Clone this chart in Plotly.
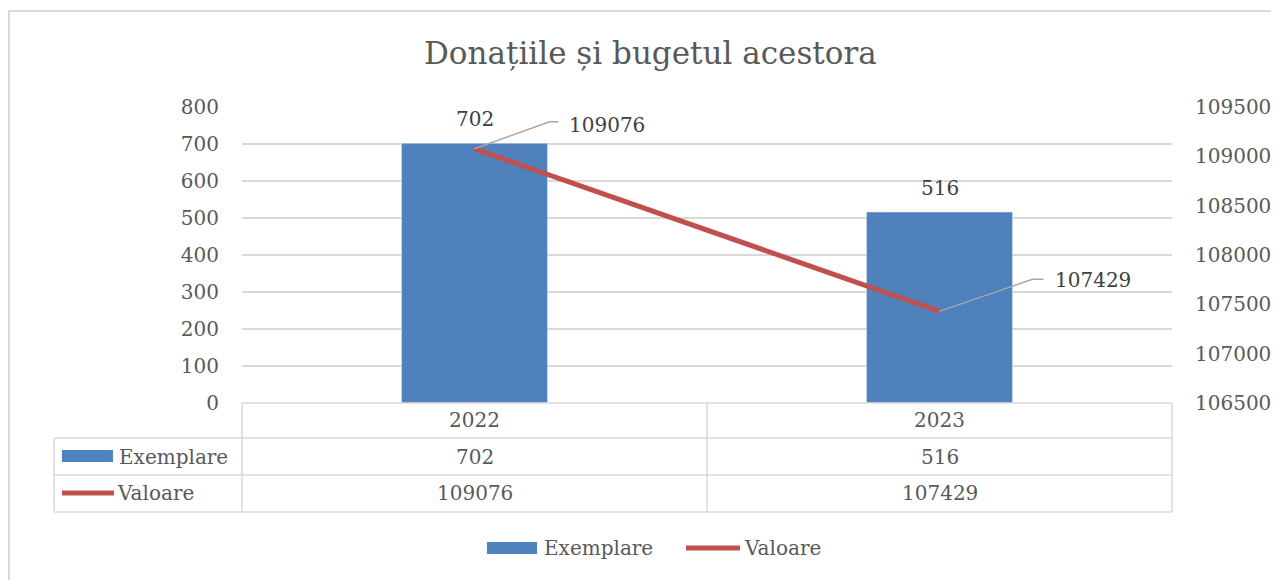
import plotly.graph_objects as go

years = ["2022", "2023"]
exemplare = [702, 516]
valoare = [109076, 107429]
left_ticks = [0, 100, 200, 300, 400, 500, 600, 700, 800]
right_ticks = [106500, 107000, 107500, 108000, 108500, 109000, 109500]
series_names = ["Exemplare", "Valoare"]
title_text = "Donațiile și bugetul acestora"

W, H = 1279, 580
OFF = 8  # page body margin
L, R, T, B = 242 - OFF, 1172 - OFF, 107 - OFF, 403 - OFF  # plot area in figure pixels
FONT = "DejaVu Serif"
TXT = "#595959"
LBL = "#404040"
GRID = "#d9d9d9"
BLUE = "#4f81bd"
RED = "#c0504d"
FS = 20


def px(x):
    return (x - OFF - L) / (R - L)


def py(y):
    return (B - (y - OFF)) / (B - T)


fig = go.Figure()
fig.add_trace(go.Bar(x=years, y=exemplare, name=series_names[0], marker_color=BLUE,
                     yaxis="y", showlegend=False))
fig.add_trace(go.Scatter(x=years, y=valoare, name=series_names[1], mode="lines",
                         line=dict(color=RED, width=5), yaxis="y2", showlegend=False))

shapes = []
annotations = []

# outer chart border
shapes.append(dict(type="rect", xref="paper", yref="paper", x0=px(9), x1=px(1320),
                   y0=py(620), y1=py(11), line=dict(color="#d9d9d9", width=2), layer="below"))

# data table lines
for yy, xa in [(403, 242), (438, 54), (475, 54), (512, 54)]:
    shapes.append(dict(type="line", xref="paper", yref="paper", x0=px(xa), x1=px(1172),
                       y0=py(yy), y1=py(yy), line=dict(color=GRID, width=1.5)))
for xx, ya in [(54, 438), (242, 403), (707, 403), (1172, 403)]:
    shapes.append(dict(type="line", xref="paper", yref="paper", x0=px(xx), x1=px(xx),
                       y0=py(ya), y1=py(512), line=dict(color=GRID, width=1.5)))

# table legend keys
shapes.append(dict(type="rect", xref="paper", yref="paper", x0=px(62), x1=px(113),
                   y0=py(462), y1=py(450), fillcolor=BLUE, line=dict(width=0)))
shapes.append(dict(type="line", xref="paper", yref="paper", x0=px(62), x1=px(114),
                   y0=py(493), y1=py(493), line=dict(color=RED, width=5)))
annotations.append(dict(xref="paper", yref="paper", x=px(117), y=py(457), text=series_names[0],
                        showarrow=False, xanchor="left", yanchor="middle",
                        font=dict(family=FONT, size=FS, color=TXT)))
annotations.append(dict(xref="paper", yref="paper", x=px(115), y=py(493), text=series_names[1],
                        showarrow=False, xanchor="left", yanchor="middle",
                        font=dict(family=FONT, size=FS, color=TXT)))

# table contents, bar labels
for i, yr in enumerate(years):
    annotations.append(dict(xref="x", yref="paper", x=i, y=py(420), text=yr, showarrow=False,
                            yanchor="middle", font=dict(family=FONT, size=FS, color=TXT)))
    annotations.append(dict(xref="x", yref="paper", x=i, y=py(457), text=str(exemplare[i]),
                            showarrow=False, yanchor="middle",
                            font=dict(family=FONT, size=FS, color=TXT)))
    annotations.append(dict(xref="x", yref="paper", x=i, y=py(493), text=str(valoare[i]),
                            showarrow=False, yanchor="middle",
                            font=dict(family=FONT, size=FS, color=TXT)))
    annotations.append(dict(xref="x", yref="y", x=i, y=exemplare[i], text=str(exemplare[i]),
                            showarrow=False, yanchor="middle", yshift=24,
                            font=dict(family=FONT, size=FS, color=LBL)))

# line labels with leader lines
leader = [(75, 27, 84, 132, 24), (93, 32, 104, 153, 31)]
for i, yr in enumerate(years):
    dx, dy, hx, lx, ly = leader[i]
    shapes.append(dict(type="path", xref="x", yref="y2", xsizemode="pixel", ysizemode="pixel",
                       xanchor=i, yanchor=valoare[i],
                       path=f"M0,0 L{dx},{dy} L{hx},{dy}",
                       line=dict(color="#a6a6a6", width=1.5)))
    annotations.append(dict(xref="x", yref="y2", x=i, y=valoare[i], text=str(valoare[i]),
                            showarrow=False, xshift=lx, yshift=ly, yanchor="middle",
                            font=dict(family=FONT, size=FS, color=LBL)))

# bottom legend
shapes.append(dict(type="rect", xref="paper", yref="paper", x0=px(487), x1=px(537),
                   y0=py(554), y1=py(542), fillcolor=BLUE, line=dict(width=0)))
shapes.append(dict(type="line", xref="paper", yref="paper", x0=px(686), x1=px(740),
                   y0=py(548), y1=py(548), line=dict(color=RED, width=5)))
annotations.append(dict(xref="paper", yref="paper", x=px(542), y=py(548), text=series_names[0],
                        showarrow=False, xanchor="left", yanchor="middle",
                        font=dict(family=FONT, size=FS, color=TXT)))
annotations.append(dict(xref="paper", yref="paper", x=px(742), y=py(548), text=series_names[1],
                        showarrow=False, xanchor="left", yanchor="middle",
                        font=dict(family=FONT, size=FS, color=TXT)))

# title
annotations.append(dict(xref="paper", yref="paper", x=px(650), y=py(53), text=title_text,
                        showarrow=False, xanchor="center", yanchor="middle",
                        font=dict(family=FONT, size=31, color=TXT)))

fig.update_layout(
    width=W, height=H,
    margin=dict(l=L, r=W - R, t=T, b=H - B, autoexpand=False),
    paper_bgcolor="white", plot_bgcolor="white",
    bargap=0.686,
    showlegend=False,
    xaxis=dict(type="category", range=[-0.5, 1.5], showticklabels=False, showgrid=False,
               zeroline=False, showline=False, ticks=""),
    yaxis=dict(range=[0, 800], tickvals=left_ticks, ticktext=[str(v) for v in left_ticks],
               showgrid=True, gridcolor=GRID, gridwidth=1.5,
               zeroline=False, showline=False, ticks="", ticklabelstandoff=22,
               tickfont=dict(family=FONT, size=FS, color=TXT)),
    yaxis2=dict(range=[106500, 109500], tickvals=right_ticks, ticktext=[str(v) for v in right_ticks],
                overlaying="y", side="right",
                showgrid=False, zeroline=False, showline=False, ticks="", ticklabelstandoff=22,
                tickfont=dict(family=FONT, size=FS, color=TXT)),
    shapes=shapes,
    annotations=annotations,
)

fig.write_html("out.html")
